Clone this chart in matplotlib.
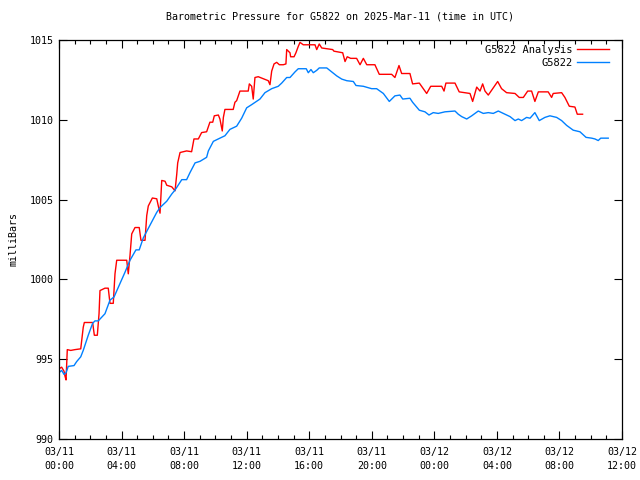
import matplotlib
matplotlib.use("Agg")
import matplotlib.pyplot as plt
from matplotlib.ticker import MultipleLocator

# Horas desde 03/11 00:00 UTC y presion (mb) - serie de analisis
t_analisis = [0.0, 0.17, 0.32, 0.38, 0.45, 0.53, 0.75, 1.02, 1.39, 1.55, 1.62, 2.15, 2.26, 2.45,
              2.56, 2.62, 2.94, 3.15, 3.26, 3.47, 3.58, 3.69, 4.33, 4.43, 4.54, 4.65, 4.86, 5.13,
              5.24, 5.50, 5.61, 5.71, 5.97, 6.25, 6.35, 6.46, 6.57, 6.78, 6.89, 7.21, 7.42, 7.53,
              7.59, 7.74, 8.16, 8.48, 8.63, 8.91, 9.12, 9.44, 9.65, 9.83, 9.93, 10.19, 10.29,
              10.44, 10.51, 10.61, 11.14, 11.25, 11.36, 11.57, 12.10, 12.17, 12.32, 12.42, 12.53,
              12.74, 13.38, 13.49, 13.60, 13.75, 13.92, 14.09, 14.34, 14.51, 14.56, 14.77, 14.81,
              15.03, 15.15, 15.30, 15.41, 15.62, 16.37, 16.48, 16.64, 16.80, 17.50, 17.58, 18.14,
              18.29, 18.43, 18.65, 19.03, 19.25, 19.46, 19.68, 20.20, 20.48, 21.27, 21.48, 21.74,
              21.91, 22.44, 22.61, 23.04, 23.51, 23.77, 24.47, 24.62, 24.74, 25.32, 25.59, 26.28,
              26.45, 26.71, 26.92, 27.09, 27.24, 27.45, 27.77, 28.05, 28.30, 28.62, 29.16, 29.43,
              29.69, 29.97, 30.22, 30.43, 30.65, 31.28, 31.50, 31.60, 32.14, 32.35, 32.63, 32.99,
              33.14, 33.48]
p_analisis = [994.4, 994.5, 994.25, 993.95, 993.7, 995.6, 995.55, 995.6, 995.65, 997.0, 997.3,
              997.3, 996.5, 996.5, 997.85, 999.3, 999.45, 999.45, 998.5, 998.5, 1000.35, 1001.2,
              1001.2, 1000.35, 1001.5, 1002.85, 1003.25, 1003.25, 1002.45, 1002.45, 1004.0,
              1004.6, 1005.1, 1005.05, 1004.6, 1004.15, 1006.2, 1006.15, 1005.9, 1005.8, 1005.55,
              1006.6, 1007.3, 1007.95, 1008.05, 1008.0, 1008.8, 1008.8, 1009.2, 1009.25, 1009.85,
              1009.85, 1010.25, 1010.3, 1010.05, 1009.3, 1010.15, 1010.65, 1010.65, 1011.1,
              1011.2, 1011.8, 1011.8, 1012.25, 1012.1, 1011.3, 1012.65, 1012.7, 1012.45, 1012.2,
              1013.05, 1013.5, 1013.6, 1013.45, 1013.45, 1013.5, 1014.4, 1014.2, 1013.95, 1013.95,
              1014.2, 1014.6, 1014.85, 1014.7, 1014.7, 1014.4, 1014.75, 1014.5, 1014.4, 1014.3,
              1014.2, 1013.65, 1013.95, 1013.85, 1013.85, 1013.45, 1013.85, 1013.45, 1013.45,
              1012.85, 1012.85, 1012.65, 1013.4, 1012.9, 1012.9, 1012.25, 1012.3, 1011.65,
              1012.1, 1012.1, 1011.8, 1012.3, 1012.3, 1011.75, 1011.65, 1011.15, 1012.05, 1011.8,
              1012.25, 1011.8, 1011.55, 1012.0, 1012.4, 1011.95, 1011.7, 1011.65, 1011.4, 1011.4,
              1011.8, 1011.8, 1011.15, 1011.75, 1011.75, 1011.4, 1011.65, 1011.7, 1011.4,
              1010.85, 1010.8, 1010.35, 1010.35]

# Serie observada de la estacion
t_estacion = [0.0, 0.17, 0.32, 0.45, 0.59, 0.96, 1.13, 1.39, 1.55, 1.87, 2.15, 2.30, 2.51, 2.94,
              3.26, 3.52, 3.79, 4.22, 4.54, 4.92, 5.13, 5.39, 5.82, 6.25, 6.46, 6.89, 7.21, 7.42,
              7.85, 8.16, 8.38, 8.70, 9.02, 9.44, 9.55, 9.87, 10.29, 10.61, 10.93, 11.36, 11.68,
              12.00, 12.32, 12.85, 13.17, 13.60, 14.02, 14.24, 14.56, 14.77, 15.09, 15.30, 15.81,
              15.94, 16.11, 16.26, 16.48, 16.64, 17.12, 17.44, 17.76, 18.08, 18.40, 18.82, 18.99,
              19.46, 19.99, 20.31, 20.74, 21.12, 21.48, 21.80, 21.98, 22.44, 22.61, 23.04, 23.40,
              23.66, 23.93, 24.25, 24.68, 25.32, 25.53, 25.75, 26.07, 26.39, 26.81, 27.13, 27.45,
              27.77, 28.09, 28.41, 28.84, 29.16, 29.37, 29.58, 29.90, 30.12, 30.43, 30.71, 31.07,
              31.39, 31.82, 32.14, 32.46, 32.88, 33.31, 33.70, 34.06, 34.27, 34.48, 34.64, 35.12]
p_estacion = [994.15, 994.3, 994.05, 994.15, 994.55, 994.6, 994.85, 995.15, 995.55, 996.5,
              997.25, 997.4, 997.4, 997.85, 998.7, 998.9, 999.5, 1000.45, 1001.2, 1001.85,
              1001.85, 1002.6, 1003.4, 1004.2, 1004.5, 1004.9, 1005.35, 1005.6, 1006.25, 1006.25,
              1006.7, 1007.3, 1007.4, 1007.65, 1008.05, 1008.65, 1008.85, 1009.0, 1009.4, 1009.6,
              1010.1, 1010.75, 1010.95, 1011.3, 1011.7, 1011.95, 1012.1, 1012.3, 1012.65,
              1012.65, 1013.0, 1013.2, 1013.2, 1012.95, 1013.15, 1012.95, 1013.1, 1013.25,
              1013.25, 1013.0, 1012.75, 1012.55, 1012.45, 1012.4, 1012.15, 1012.1, 1011.95,
              1011.95, 1011.65, 1011.15, 1011.5, 1011.55, 1011.3, 1011.35, 1011.1, 1010.6,
              1010.5, 1010.3, 1010.45, 1010.4, 1010.5, 1010.55, 1010.35, 1010.2, 1010.05,
              1010.25, 1010.55, 1010.4, 1010.45, 1010.4, 1010.55, 1010.4, 1010.2, 1009.95,
              1010.05, 1009.95, 1010.15, 1010.1, 1010.45, 1009.95, 1010.15, 1010.25, 1010.15,
              1009.95, 1009.65, 1009.35, 1009.25, 1008.9, 1008.85, 1008.8, 1008.7, 1008.85,
              1008.85]

# Etiquetas del eje X
x_ticks = [0, 4, 8, 12, 16, 20, 24, 28, 32, 36]
x_labels = ["03/11\n00:00", "03/11\n04:00", "03/11\n08:00", "03/11\n12:00", "03/11\n16:00",
            "03/11\n20:00", "03/12\n00:00", "03/12\n04:00", "03/12\n08:00", "03/12\n12:00"]
y_ticks = [990, 995, 1000, 1005, 1010, 1015]

plt.rcParams['font.family'] = ['DejaVu Sans Mono']

fig = plt.figure(figsize=(6.4, 4.8), dpi=100)
ax = fig.add_axes([59 / 640, 41 / 480, 563 / 640, 399 / 480])

ax.plot(t_analisis, p_analisis, color='#ff0000', linewidth=1.0, label='G5822 Analysis')
ax.plot(t_estacion, p_estacion, color='#0080ff', linewidth=1.0, label='G5822')

ax.set_xlim(0, 36)
ax.set_ylim(990, 1015)
ax.set_xticks(x_ticks)
ax.set_xticklabels(x_labels, linespacing=1.45)
ax.xaxis.set_minor_locator(MultipleLocator(1))
ax.set_yticks(y_ticks)

ax.tick_params(axis='both', which='both', direction='in', top=True, right=True,
               labelsize=7.2, width=0.8, pad=4)
ax.tick_params(axis='x', which='major', pad=6)
ax.tick_params(axis='both', which='major', length=6)
ax.tick_params(axis='x', which='minor', length=3)

for s in ax.spines.values():
    s.set_linewidth(0.9)

ax.set_title("Barometric Pressure for G5822 on 2025-Mar-11 (time in UTC)", fontsize=7.2, pad=15)
ax.set_ylabel("milliBars", fontsize=7.2, labelpad=8)

leg = ax.legend(loc='upper right', frameon=False, markerfirst=False, fontsize=7.5,
                handlelength=3.1, handletextpad=0.45, labelspacing=0.3,
                bbox_to_anchor=(0.994, 1.012))
for txt in leg.get_texts():
    txt.set_ha('right')

fig.savefig("out.png", dpi=100)
